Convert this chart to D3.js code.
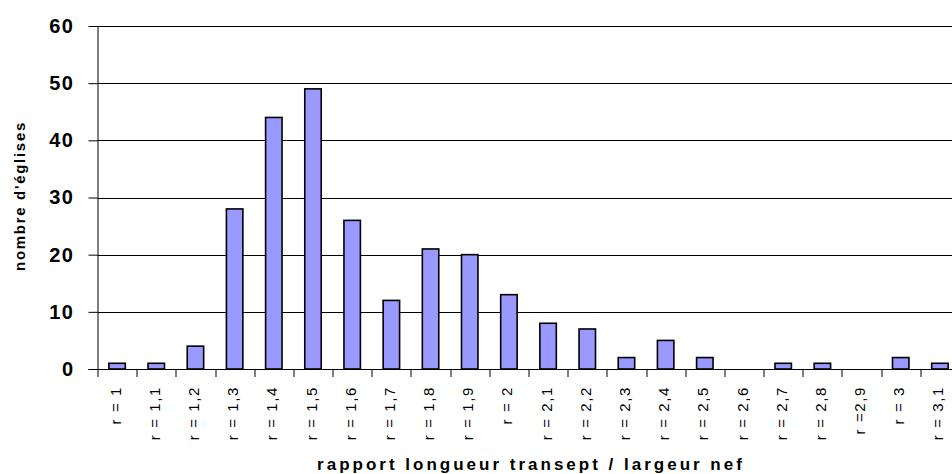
<!DOCTYPE html>
<html>
<head>
<meta charset="utf-8">
<script src="https://cdn.jsdelivr.net/npm/d3@7"></script>
<style>
  body { margin: 0; background: #fff; }
  svg { display: block; font-family: Arial, "Liberation Sans", sans-serif; }
</style>
</head>
<body>
<div id="chart"></div>
<script>
// categories (ratio transept length / nave width) and counts
var categories = ["r = 1", "r = 1,1", "r = 1,2", "r = 1,3", "r = 1,4", "r = 1,5", "r = 1,6", "r = 1,7",
  "r = 1,8", "r = 1,9", "r = 2", "r = 2,1", "r = 2,2", "r = 2,3", "r = 2,4", "r = 2,5", "r = 2,6",
  "r = 2,7", "r = 2,8", "r =2,9", "r = 3", "r = 3,1"];
var counts = [1, 1, 4, 28, 44, 49, 26, 12, 21, 20, 13, 8, 7, 2, 5, 2, 0, 1, 1, 0, 2, 1];
var yTicks = [0, 10, 20, 30, 40, 50, 60];

var svgWidth = 952;
var svgHeight = 474;

var margin = { top: 26, right: -7.5, bottom: 105, left: 97.5 };
var width = svgWidth - margin.left - margin.right;
var height = svgHeight - margin.top - margin.bottom;

var svg = d3.select("#chart").append("svg")
  .attr("width", svgWidth)
  .attr("height", svgHeight);

var g = svg.append("g")
  .attr("transform", `translate(${margin.left}, ${margin.top})`);

var xScale = d3.scaleBand()
  .domain(categories)
  .range([0, width])
  .padding(0);

var yScale = d3.scaleLinear()
  .domain([0, 60])
  .range([height, 0]);

// horizontal gridlines
g.selectAll(".grid")
  .data(yTicks.slice(1))
  .enter()
  .append("line")
  .attr("x1", 0)
  .attr("x2", width)
  .attr("y1", d => Math.round(yScale(d)) + 0.5)
  .attr("y2", d => Math.round(yScale(d)) + 0.5)
  .attr("stroke", "#000")
  .attr("stroke-width", 1);

// bars
var barW = xScale.bandwidth() * 0.42;
g.selectAll(".bar")
  .data(counts)
  .enter()
  .append("rect")
  .attr("x", (d, i) => xScale(categories[i]) + (xScale.bandwidth() - barW) / 2)
  .attr("y", d => yScale(d))
  .attr("width", barW)
  .attr("height", d => height - yScale(d))
  .attr("fill", "#9999ff")
  .attr("stroke", "#000")
  .attr("stroke-width", 1.6);

// y axis
var leftAxis = d3.axisLeft(yScale).tickValues(yTicks).tickSize(9).tickPadding(14);
var yAxisG = g.append("g").call(leftAxis);
yAxisG.select(".domain").attr("stroke", "#000").attr("d", `M0.5,${height}V0`);
yAxisG.selectAll(".tick line").attr("stroke", "#000");
yAxisG.selectAll("text")
  .attr("fill", "#000")
  .style("font-size", "20px")
  .style("font-weight", "bold")
  .style("letter-spacing", "1.5px");

// x axis: ticks at category boundaries
var xAxisG = g.append("g").attr("transform", `translate(0, ${height})`);
xAxisG.append("line")
  .attr("x1", -9).attr("x2", width)
  .attr("y1", 0.5).attr("y2", 0.5)
  .attr("stroke", "#000");
xAxisG.selectAll(".xtick")
  .data(categories)
  .enter()
  .append("line")
  .attr("x1", d => Math.round(xScale(d)) + 0.5)
  .attr("x2", d => Math.round(xScale(d)) + 0.5)
  .attr("y1", 0)
  .attr("y2", 8)
  .attr("stroke", "#000");
xAxisG.selectAll(".xlabel")
  .data(categories)
  .enter()
  .append("text")
  .attr("transform", d => `translate(${xScale(d) + xScale.bandwidth() / 2 + 3.5}, 17) rotate(-90)`)
  .attr("text-anchor", "end")
  .style("font-size", "15px")
  .style("letter-spacing", "1.6px")
  .attr("fill", "#000")
  .text(d => d);

// axis titles
svg.append("text")
  .attr("x", 531)
  .attr("y", 470)
  .attr("text-anchor", "middle")
  .style("font-size", "17px")
  .style("font-weight", "bold")
  .style("letter-spacing", "3px")
  .text("rapport longueur transept / largeur nef");

svg.append("text")
  .attr("transform", "translate(25, 196) rotate(-90)")
  .attr("text-anchor", "middle")
  .style("font-size", "15px")
  .style("font-weight", "bold")
  .style("letter-spacing", "1.7px")
  .text("nombre d'églises");
</script>
</body>
</html>
